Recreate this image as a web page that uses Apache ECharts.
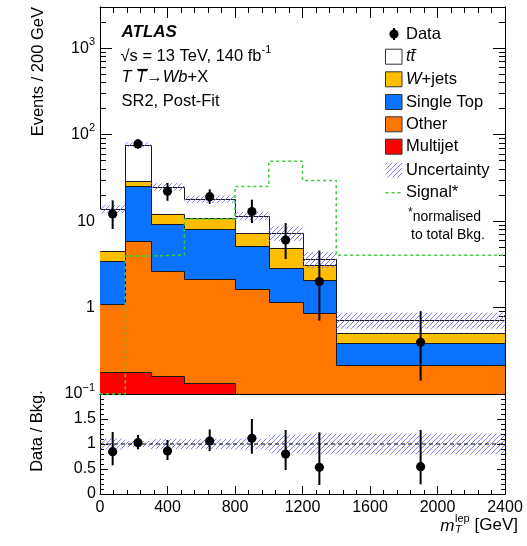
<!DOCTYPE html>
<html><head><meta charset="utf-8">
<script src="https://cdn.jsdelivr.net/npm/echarts@6/dist/echarts.min.js"></script>
<style>html,body{margin:0;padding:0;background:#fff}#c{width:527px;height:546px}</style>
</head><body><div id="c"></div>
<script>
// ---------------- data ----------------
const binEdges = [0,150,300,500,800,1000,1200,1400,2400];
const multijet = [0.178,0.181,0.162,0.133,0,0,0,0];
const other = [0.912,5.64,2.50,2.00,1.66,1.16,0.875,0.217];
const singleTop = [2.36,19.7,6.50,5.97,3.43,1.72,1.205,0.176];
const wjets = [1.01,3.3,2.94,2.8,2.19,2.04,0.99,0.12];
const ttbar = [9.34,48.0,12.9,7.1,4.22,2.36,0.57,0.207];
const relUnc = [0.11,0.06,0.10,0.10,0.11,0.19,0.21,0.21];
const signal = [0.1,3.95,4.05,10.6,25.2,49.2,29.6,4.02];
const dataX = [75,225,400,650,900,1100,1300,1900];
const dataY = [12.1,78.2,22.1,19.2,12.9,6.04,2.0,0.397];
const dataLo = [8.1,69,17.2,15.8,9.5,3.64,0.707,0.143];
const dataHi = [17.4,88,27.6,23.3,17.7,9.5,4.57,0.908];
const ratioY = [0.846,1.026,0.86,1.06,1.113,0.8,0.533,0.547];
const ratioLo = [0.574,0.894,0.68,0.86,0.806,0.48,0.18,0.194];
const ratioHi = [1.24,1.18,1.08,1.29,1.5,1.28,1.234,1.28];
const yTickValues = [0.1,1,10,100,1000];
const yTickExp = [-1,0,1,2,3];
const xTickLabels = ['0','400','800','1200','1600','2000','2400'];
const ratioTickValues = [0,0.5,1,1.5];
const ratioTickLabels = ['0','0.5','1','1.5'];

// ---------------- helpers ----------------
const FONT = '"Liberation Sans", Arial, Helvetica, sans-serif';
const YMIN = 0.1, YMAX = 3000;
const nBins = binEdges.length - 1;
const HATCH_COLOR = '#7070ff';
const components = [
  {values: multijet, color: '#ff0000'},
  {values: other, color: '#ff7700'},
  {values: singleTop, color: '#0a72ff'},
  {values: wjets, color: '#ffbf00'},
  {values: ttbar, color: '#ffffff'}
];
let running = new Array(nBins).fill(0);
components.forEach(c => {
  c.lo = running.slice();
  running = running.map((r, i) => r + c.values[i]);
  c.hi = running.slice();
});
const total = running;

// diagonal "///" hatch lines clipped to a screen rectangle
function hatchLines(x0, y0, x1, y1, z) {
  const sp = 5, out = [];
  const cStart = Math.ceil((x0 + y0) / sp) * sp;
  for (let c = cStart; c <= x1 + y1; c += sp) {
    const xa = Math.max(x0, c - y1), xb = Math.min(x1, c - y0);
    if (xb - xa > 0.2) out.push({type: 'line', silent: true, z: z,
      shape: {x1: xa, y1: c - xa, x2: xb, y2: c - xb},
      style: {stroke: HATCH_COLOR, lineWidth: 0.9}});
  }
  return out;
}

const minorLog = [];
for (let d = -1; d <= 3; d++) for (let m = 2; m <= 9; m++) { const v = m * Math.pow(10, d); if (v <= YMAX) minorLog.push(+v.toPrecision(3)); }
const minorRatio = [];
for (let i = 1; i < 20; i++) if (i % 5) minorRatio.push(i / 10);

const axLine = {show: true, onZero: false, lineStyle: {color: '#000', width: 1}};
function xAxis(grid, pos, showLabel, major, minor) {
  return {type: 'value', gridIndex: grid, position: pos, min: 0, max: 2400, interval: 400,
    axisLine: axLine,
    axisTick: {show: true, inside: true, length: major, lineStyle: {color: '#000'}},
    minorTick: {show: true, splitNumber: 5, length: minor, lineStyle: {color: '#000'}},
    axisLabel: {show: showLabel, margin: 6, fontSize: 16, fontFamily: FONT, color: '#000',
      formatter: v => xTickLabels[Math.round(v / 400)]},
    splitLine: {show: false}, minorSplitLine: {show: false}};
}
function logAxis(pos, custom, len, showLabel) {
  return {type: 'log', logBase: 10, gridIndex: 0, position: pos, min: YMIN, max: YMAX,
    axisLine: axLine,
    axisTick: {show: true, inside: true, length: len, customValues: custom, lineStyle: {color: '#000'}},
    axisLabel: {show: showLabel, customValues: yTickValues, margin: 5, fontSize: 16, fontFamily: FONT, color: '#000',
      lineHeight: 24,
      formatter: v => {
        const e = yTickExp[yTickValues.indexOf(yTickValues.reduce((a, b) => Math.abs(b - v) < Math.abs(a - v) ? b : a))];
        if (e === 0) return '1';
        if (e === 1) return '10';
        return '10{sup|' + (e < 0 ? '\u2212' + (-e) : e) + '}';
      },
      rich: {sup: {fontSize: 11, lineHeight: 10, verticalAlign: 'top', fontFamily: FONT, color: '#000'}}},
    splitLine: {show: false}};
}
function ratioAxis(pos, custom, len, showLabel) {
  return {type: 'value', gridIndex: 1, position: pos, min: 0, max: 2,
    axisLine: axLine,
    axisTick: {show: true, inside: true, length: len, customValues: custom, lineStyle: {color: '#000'}},
    axisLabel: {show: showLabel, customValues: ratioTickValues, margin: 4, fontSize: 16, fontFamily: FONT, color: '#000',
      formatter: v => ratioTickLabels[ratioTickValues.indexOf(Math.round(v * 2) / 2)]},
    splitLine: {show: false}};
}

function rectRender(fill) {
  return (p, api) => {
    const a = api.coord([api.value(0), api.value(3)]);
    const b = api.coord([api.value(1), api.value(2)]);
    const x0 = Math.round(a[0]), x1 = Math.round(b[0]), y0 = Math.round(a[1]), y1 = Math.round(b[1]);
    return {type: 'rect', shape: {x: x0, y: y0, width: x1 - x0, height: y1 - y0},
      style: {fill: fill, stroke: null}};
  };
}
function hatchRender(p, api) {
  const a = api.coord([api.value(0), api.value(3)]);
  const b = api.coord([api.value(1), api.value(2)]);
  return {type: 'group', children: hatchLines(a[0], a[1], b[0], b[1], 4)};
}
function stepRender(p, api) {
  const a = api.coord([api.value(0), api.value(2)]);
  const b = api.coord([api.value(1), api.value(2)]);
  const q = api.coord([api.value(0), api.value(3)]);
  const X0 = Math.round(a[0]) + 0.5, X1 = Math.round(b[0]) + 0.5, Y = Math.round(a[1]) + 0.5, Q = Math.round(q[1]) + 0.5;
  return {type: 'group', children: [
    {type: 'line', shape: {x1: X0, y1: Y, x2: X1, y2: Y}, style: {stroke: '#1a1a1a', lineWidth: 1}},
    {type: 'line', shape: {x1: X0, y1: Q, x2: X0, y2: Y}, style: {stroke: '#1a1a1a', lineWidth: 1}}
  ]};
}
function pointRender(p, api) {
  const c = api.coord([api.value(0), api.value(1)]);
  const lo = api.coord([api.value(0), api.value(2)]);
  const hi = api.coord([api.value(0), api.value(3)]);
  return {type: 'group', children: [
    {type: 'line', shape: {x1: c[0], y1: lo[1], x2: c[0], y2: hi[1]}, style: {stroke: '#000', lineWidth: 2}},
    {type: 'circle', shape: {cx: c[0], cy: c[1], r: 4.6}, style: {fill: '#000'}}
  ]};
}

const series = [];
components.forEach((c, k) => {
  series.push({type: 'custom', coordinateSystem: 'cartesian2d', xAxisIndex: 0, yAxisIndex: 0, clip: true, silent: true,
    z: 2, encode: {x: [0, 1], y: [2, 3]},
    data: c.lo.map((lo, i) => [binEdges[i], binEdges[i + 1], Math.max(lo, YMIN), Math.max(c.hi[i], YMIN)]),
    renderItem: rectRender(c.color)});
});
components.forEach((c, k) => {
  series.push({type: 'custom', coordinateSystem: 'cartesian2d', xAxisIndex: 0, yAxisIndex: 0, clip: true, silent: true,
    z: 3, encode: {x: [0, 1], y: [2, 3]},
    data: c.hi.map((h, i) => [binEdges[i], binEdges[i + 1], Math.max(h, YMIN), Math.max(i > 0 ? c.hi[i - 1] : h, YMIN)]),
    renderItem: stepRender});
});
series.push({type: 'custom', coordinateSystem: 'cartesian2d', xAxisIndex: 0, yAxisIndex: 0, clip: true, silent: true,
  z: 4, encode: {x: [0, 1], y: [2, 3]},
  data: total.map((t, i) => [binEdges[i], binEdges[i + 1], t * (1 - relUnc[i]), t * (1 + relUnc[i])]),
  renderItem: hatchRender});
series.push({type: 'line', xAxisIndex: 0, yAxisIndex: 0, step: 'end', symbol: 'none', clip: false, silent: true, z: 5,
  data: signal.map((s, i) => [binEdges[i], s]).concat([[binEdges[nBins], signal[nBins - 1]]]),
  lineStyle: {color: '#3ccc3c', width: 1.5, type: [3, 3]}});
series.push({type: 'custom', coordinateSystem: 'cartesian2d', xAxisIndex: 0, yAxisIndex: 0, clip: true, silent: true,
  z: 6, encode: {x: 0, y: [1, 2, 3]},
  data: dataX.map((x, i) => [x, dataY[i], dataLo[i], dataHi[i]]),
  renderItem: pointRender});
// ratio
series.push({type: 'custom', coordinateSystem: 'cartesian2d', xAxisIndex: 2, yAxisIndex: 4, clip: true, silent: true,
  z: 4, encode: {x: [0, 1], y: [2, 3]},
  data: relUnc.map((u, i) => [binEdges[i], binEdges[i + 1], 1 - u, 1 + u]),
  renderItem: hatchRender});
series.push({type: 'line', xAxisIndex: 2, yAxisIndex: 4, symbol: 'none', silent: true, z: 5,
  data: [[0, 1], [2400, 1]], lineStyle: {color: '#000', width: 1.2, type: [4, 3]}});
series.push({type: 'custom', coordinateSystem: 'cartesian2d', xAxisIndex: 2, yAxisIndex: 4, clip: true, silent: true,
  z: 6, encode: {x: 0, y: [1, 2, 3]},
  data: dataX.map((x, i) => [x, ratioY[i], ratioLo[i], ratioHi[i]]),
  renderItem: pointRender});

// ---------------- graphics: texts & legend ----------------
const G = [];
function txt(text, x, y, opt) {
  G.push({type: 'text', x: x, y: y, silent: true, z: 100,
    style: Object.assign({text: text, fontFamily: FONT, fontSize: 16.5, fill: '#000',
      textAlign: 'left', textVerticalAlign: 'middle'}, opt || {})});
}
function line(x1, y1, x2, y2, st) {
  G.push({type: 'line', silent: true, z: 100, shape: {x1, y1, x2, y2}, style: Object.assign({stroke: '#000', lineWidth: 1}, st || {})});
}
// top-left block
txt('ATLAS', 121.5, 32.5, {fontWeight: 'bold', fontStyle: 'italic', fontSize: 17});
txt('\u221As = 13 TeV, 140 fb{sup|-1}', 120.5, 56, {lineHeight: 24,
  rich: {sup: {fontSize: 11, lineHeight: 10, verticalAlign: 'top', fontFamily: FONT}}});
txt('{i|T T}\u2192{i|Wb}+X', 121.5, 77.5, {rich: {i: {fontStyle: 'italic', fontSize: 16.5, fontFamily: FONT}}});
line(137, 69.5, 148, 69.5, {lineWidth: 1.2});
txt('SR2, Post-Fit', 121.5, 101);

// legend
const LX = 385.5, LW = 16.5, LH = 15;
const rows = [34, 56.7, 79.3, 102, 124.3, 146.7, 170, 192.7];
line(394, 28, 394, 40, {lineWidth: 2});
G.push({type: 'circle', silent: true, z: 100, shape: {cx: 394, cy: 34, r: 4.6}, style: {fill: '#000'}});
txt('Data', 406, 34);
const legendBoxes = [
  {fill: '#ffffff', row: 1}, {fill: '#ffbf00', row: 2}, {fill: '#0a72ff', row: 3},
  {fill: '#ff7700', row: 4}, {fill: '#ff0000', row: 5}
];
legendBoxes.forEach(b => {
  G.push({type: 'rect', silent: true, z: 100, shape: {x: LX, y: rows[b.row] - LH / 2, width: LW, height: LH},
    style: {fill: b.fill, stroke: '#333', lineWidth: 1}});
});
txt('tt', 406, rows[1], {fontStyle: 'italic'});
line(411.5, 49.5, 416.5, 49.5, {lineWidth: 1.1});
txt('{i|W}+jets', 406, rows[2], {rich: {i: {fontStyle: 'italic', fontSize: 16.5, fontFamily: FONT}}});
txt('Single Top', 406, rows[3]);
txt('Other', 406, rows[4]);
txt('Multijet', 406, rows[5]);
hatchLines(LX, rows[6] - LH / 2, LX + LW, rows[6] + LH / 2, 100).forEach(e => G.push(e));
txt('Uncertainty', 406, rows[6]);
line(LX, rows[7], LX + LW, rows[7], {stroke: '#3ccc3c', lineWidth: 1.5, lineDash: [3, 3]});
txt('Signal*', 406, rows[7]);
txt('{sup|*}normalised', 408, 216.7, {fontSize: 14, lineHeight: 20,
  rich: {sup: {fontSize: 12, lineHeight: 12, verticalAlign: 'top', fontFamily: FONT}}});
txt('to total Bkg.', 411, 235, {fontSize: 14});

// axis titles
G.push({type: 'text', x: 38, y: 7, rotation: Math.PI / 2, silent: true, z: 100,
  style: {text: 'Events / 200 GeV', fontFamily: FONT, fontSize: 16.5, fill: '#000', textAlign: 'right', textVerticalAlign: 'middle'}});
G.push({type: 'text', x: 37.5, y: 431, rotation: Math.PI / 2, silent: true, z: 100,
  style: {text: 'Data / Bkg.', fontFamily: FONT, fontSize: 16.5, fill: '#000', textAlign: 'center', textVerticalAlign: 'middle'}});
txt('[GeV]', 518, 525.5, {textAlign: 'right', fontSize: 17});
txt('m', 454.5, 526, {textAlign: 'right', fontStyle: 'italic', fontSize: 17});
txt('lep', 455, 518.5, {fontSize: 11});
txt('T', 455, 530, {fontSize: 11, fontStyle: 'italic'});

const option = {
  animation: false,
  backgroundColor: '#fff',
  textStyle: {fontFamily: FONT},
  grid: [
    {left: 100, top: 7, width: 405, height: 387, containLabel: false},
    {left: 100, top: 394, width: 405, height: 100, containLabel: false}
  ],
  xAxis: [
    xAxis(0, 'bottom', false, 11, 6),
    xAxis(0, 'top', false, 11, 6),
    xAxis(1, 'bottom', true, 8, 4)
  ],
  yAxis: [
    logAxis('left', yTickValues, 12, true),
    logAxis('left', minorLog, 6, false),
    logAxis('right', yTickValues, 12, false),
    logAxis('right', minorLog, 6, false),
    ratioAxis('left', ratioTickValues, 8, true),
    ratioAxis('left', minorRatio, 4, false),
    ratioAxis('right', ratioTickValues, 8, false),
    ratioAxis('right', minorRatio, 4, false)
  ],
  series: series,
  graphic: G
};
const chart = echarts.init(document.getElementById('c'), null, {renderer: 'canvas'});
chart.setOption(option);
</script>
</body></html>
